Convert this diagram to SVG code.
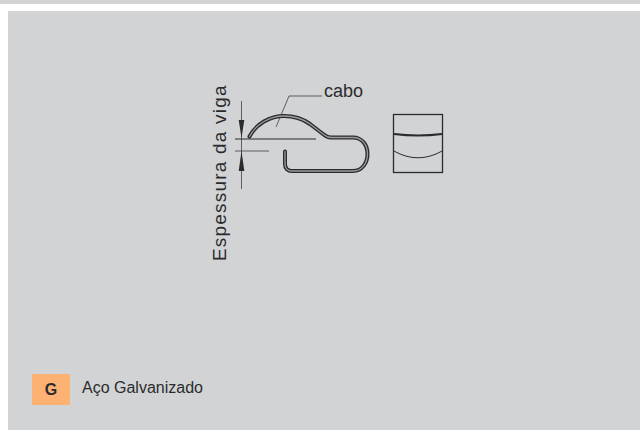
<svg xmlns="http://www.w3.org/2000/svg" width="640" height="430" viewBox="0 0 640 430">
<style>
text{font-family:"Liberation Sans",Arial,sans-serif;fill:#2b2b2d}
.thin{fill:none;stroke:#2b2b2d;stroke-width:.7}
.mid{fill:none;stroke:#2b2b2d;stroke-width:1.1}
.ah{fill:#2b2b2d}
</style>
<defs>
<path id="hook" d="M249.500 136.500C256 124 270 116 284 116C296 116 303 119 310 124L323 134C326 136.500 328 137.500 331 137.500L353 137.500C362 137.500 367.500 145 367.500 154C367.500 163 362 171 353 171L292 171C287.500 171 285 168 285 164L285 151.500"/>
</defs>
<rect width="640" height="430" fill="#fff"/>
<rect width="640" height="4" fill="#d2d3d5"/>
<rect x="8" y="11" width="632" height="419" fill="#d2d3d5"/>
<g id="connectors">
<path class="thin" d="M241.500 101V189"/>
<path class="mid" d="M235 139H316"/>
<path class="thin" d="M235 151H269"/>
<path class="thin" d="M322 96H289L276 127"/>
<path class="ah" d="M241.500 138L238.700 120H244.300Z"/>
<path class="ah" d="M241.500 151L238.700 171H244.300Z"/>
</g>
<g id="clip">
<use href="#hook" fill="none" stroke="#2b2b2d" stroke-width="4" stroke-linecap="round" stroke-linejoin="round"/>
<use href="#hook" fill="none" stroke="#9b9c9e" stroke-width="1.300" stroke-linecap="round" stroke-linejoin="round"/>
</g>
<g id="section" fill="none" stroke="#2b2b2d">
<rect x="393.500" y="114.500" width="49" height="58" stroke-width="1.300"/>
<path stroke-width="2.200" d="M394 134C410 136 426 136 442 134"/>
<path stroke-width="1" d="M394 151C410 160 426 160 442 151"/>
</g>
<text x="324" y="97" font-size="18">cabo</text>
<text transform="translate(226 261) rotate(-90)" font-size="19" letter-spacing="1.200">Espessura da viga</text>
<g id="legend">
<rect x="32" y="374" width="38" height="31" fill="#fdb173"/>
<text x="51" y="394.500" font-size="16" font-weight="bold" text-anchor="middle">G</text>
<text x="82" y="393" font-size="16">Aço Galvanizado</text>
</g>
</svg>
